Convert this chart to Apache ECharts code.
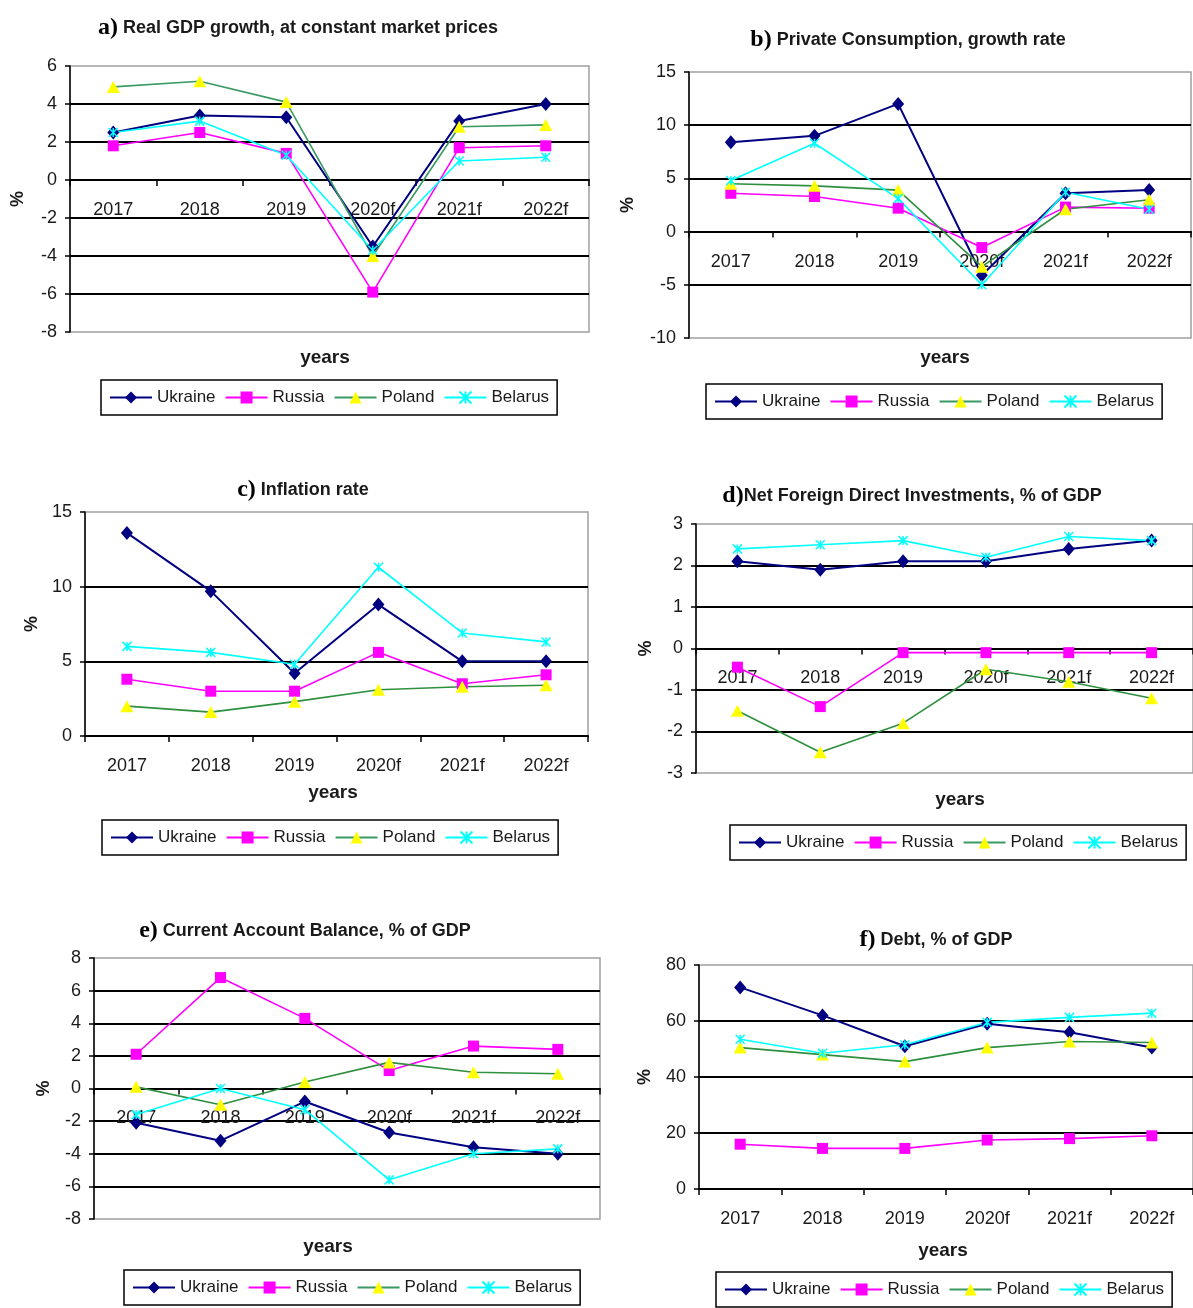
<!DOCTYPE html>
<html>
<head>
<meta charset="utf-8">
<script src="https://cdn.jsdelivr.net/npm/echarts@6/dist/echarts.min.js"></script>
<style>
  html, body { margin: 0; padding: 0; background: #fff; }
  #chart { width: 1193px; height: 1308px; }
</style>
</head>
<body>
<div id="chart"></div>
<script>
// Shared categories and series names
const years = ['2017', '2018', '2019', '2020f', '2021f', '2022f'];
const countries = ['Ukraine', 'Russia', 'Poland', 'Belarus'];

// a) Real GDP growth, at constant market prices (%), rows follow `countries`
const gdpGrowth = [
  [2.5, 3.4, 3.3, -3.5, 3.1, 4.0],
  [1.8, 2.5, 1.4, -5.9, 1.7, 1.8],
  [4.9, 5.2, 4.1, -4.0, 2.8, 2.9],
  [2.5, 3.1, 1.3, -3.7, 1.0, 1.2]
];
// b) Private consumption, growth rate (%)
const consumption = [
  [8.4, 9.0, 12.0, -4.1, 3.6, 3.9],
  [3.6, 3.3, 2.2, -1.5, 2.3, 2.2],
  [4.5, 4.3, 3.9, -3.3, 2.1, 3.0],
  [4.8, 8.3, 3.1, -5.0, 3.7, 2.1]
];
// c) Inflation rate (%)
const inflation = [
  [13.6, 9.7, 4.2, 8.8, 5.0, 5.0],
  [3.8, 3.0, 3.0, 5.6, 3.5, 4.1],
  [2.0, 1.6, 2.3, 3.1, 3.3, 3.4],
  [6.0, 5.6, 4.8, 11.3, 6.9, 6.3]
];
// d) Net foreign direct investments, % of GDP
const netFdi = [
  [2.1, 1.9, 2.1, 2.1, 2.4, 2.6],
  [-0.45, -1.4, -0.1, -0.1, -0.1, -0.1],
  [-1.5, -2.5, -1.8, -0.5, -0.8, -1.2],
  [2.4, 2.5, 2.6, 2.2, 2.7, 2.6]
];
// e) Current account balance, % of GDP
const currentAccount = [
  [-2.1, -3.2, -0.8, -2.7, -3.6, -4.0],
  [2.1, 6.8, 4.3, 1.1, 2.6, 2.4],
  [0.1, -1.0, 0.4, 1.6, 1.0, 0.9],
  [-1.6, 0.0, -1.3, -5.6, -4.0, -3.7]
];
// f) Debt, % of GDP
const debt = [
  [72, 62, 51, 59, 56, 50.5],
  [16, 14.5, 14.5, 17.5, 18, 19],
  [50.5, 48, 45.5, 50.5, 52.7, 52.3],
  [53.5, 48.5, 51.5, 59.5, 61.3, 62.8]
];

const SANS = "'Liberation Sans', Arial, sans-serif";
const SERIF = "'Liberation Serif', 'DejaVu Serif', serif";
const TEXT = '#1a1a1a';

// Per-country line and marker styling
const styles = [
  { line: '#000080', fill: '#000080', symbol: 'diamond', size: [12, 14], width: 2 },
  { line: '#ff00ff', fill: '#ff00ff', symbol: 'rect', size: 11, width: 1.6 },
  { line: '#2e8f3e', fill: '#ffff00', symbol: 'triangle', size: [13, 12], width: 1.6 },
  { line: '#00ffff', fill: 'transparent', symbol: 'path://M0,0L10,10M10,0L0,10M5,0L5,10', size: 9, width: 1.6 }
];

// Panel layout: plot rectangles, axis ranges, titles, legend boxes
const panels = [
  { tag: 'a)', title: ' Real GDP growth, at constant market prices', data: gdpGrowth,
    grid: [70, 66, 519, 266], y: [-8, 6, 2], titleAt: [298, 28], yearsAt: [325, 358],
    legendAt: [101, 380], pctX: 18, poland: '#3a9a62' },
  { tag: 'b)', title: ' Private Consumption, growth rate', data: consumption,
    grid: [689, 72, 502, 266], y: [-10, 15, 5], titleAt: [908, 40], yearsAt: [945, 358],
    legendAt: [706, 384], pctX: 628 },
  { tag: 'c)', title: ' Inflation rate', data: inflation,
    grid: [85, 512, 503, 224], y: [0, 15, 5], titleAt: [303, 490], yearsAt: [333, 793],
    legendAt: [102, 820], pctX: 32 },
  { tag: 'd)', title: 'Net Foreign Direct Investments, % of GDP', data: netFdi,
    grid: [696, 524, 503, 249], y: [-3, 3, 1], titleAt: [912, 496], yearsAt: [960, 800],
    legendAt: [730, 825], pctX: 646 },
  { tag: 'e)', title: ' Current Account Balance, % of GDP', data: currentAccount,
    grid: [94, 958, 506, 261], y: [-8, 8, 2], titleAt: [305, 931], yearsAt: [328, 1247],
    legendAt: [124, 1270], pctX: 44 },
  { tag: 'f)', title: ' Debt, % of GDP', data: debt,
    grid: [699, 965, 500, 224], y: [0, 80, 20], titleAt: [936, 940], yearsAt: [943, 1251],
    legendAt: [716, 1272], pctX: 645 }
];

const grid = [], xAxis = [], yAxis = [], series = [], legend = [], graphic = [];

panels.forEach((p, i) => {
  const [gl, gt, gw, gh] = p.grid;
  const [ymin, ymax, step] = p.y;
  // the category axis crosses the value axis at zero: lift it from the plot bottom
  const zeroLift = gh * (0 - ymin) / (ymax - ymin);

  grid.push({
    left: gl, top: gt, width: gw, height: gh,
    show: true, borderColor: '#a0a0a0', borderWidth: 1.5, backgroundColor: 'transparent'
  });
  xAxis.push({
    type: 'category', gridIndex: i, data: years, boundaryGap: true,
    position: 'bottom', offset: -zeroLift,
    axisLine: { onZero: false, lineStyle: { color: '#000', width: 2 } },
    axisTick: { show: true, interval: 0, length: 6, lineStyle: { color: '#000', width: 1.5 } },
    axisLabel: { interval: 0, margin: 21, fontSize: 18, color: TEXT, fontFamily: SANS },
    splitLine: { show: false }
  });
  yAxis.push({
    type: 'value', gridIndex: i, min: ymin, max: ymax, interval: step,
    axisLine: { show: true, onZero: false, lineStyle: { color: '#000', width: 1.5 } },
    axisTick: { show: true, length: 5, lineStyle: { color: '#000', width: 1.5 } },
    axisLabel: { margin: 13, fontSize: 18, color: TEXT, fontFamily: SANS },
    splitLine: { show: true, showMinLine: false, showMaxLine: false,
                 lineStyle: { color: '#000', width: 2 } }
  });
  countries.forEach((name, k) => {
    const s = styles[k];
    const lineColor = (k === 2 && p.poland) ? p.poland : s.line;
    series.push({
      type: 'line', name, xAxisIndex: i, yAxisIndex: i,
      data: p.data[k],
      symbol: s.symbol, symbolSize: s.size, showAllSymbol: true,
      lineStyle: { color: lineColor, width: s.width },
      itemStyle: { color: s.fill, borderColor: k === 3 ? '#00ffff' : s.fill, borderWidth: k === 3 ? 1.5 : 0 },
      emphasis: { disabled: true },
      animation: false
    });
  });
  legend.push({
    data: countries.map((name, k) => (k === 2 && p.poland)
      ? { name, lineStyle: { color: p.poland } } : name),
    left: p.legendAt[0], top: p.legendAt[1],
    orient: 'horizontal', padding: [9, 8, 9, 8], itemGap: 9,
    itemWidth: 42, itemHeight: 15,
    borderColor: '#000', borderWidth: 1.5, backgroundColor: '#fff',
    selectedMode: false,
    textStyle: { fontSize: 17, color: TEXT, fontFamily: SANS }
  });
  graphic.push({
    type: 'text', x: p.titleAt[0], y: p.titleAt[1],
    style: {
      text: '{tag|' + p.tag + '}{t|' + p.title + '}',
      textAlign: 'center', textVerticalAlign: 'middle',
      rich: {
        tag: { fontFamily: SERIF, fontWeight: 'bold', fontSize: 24, fill: '#000' },
        t: { fontFamily: SANS, fontWeight: 'bold', fontSize: 18, fill: TEXT }
      }
    }
  });
  graphic.push({
    type: 'text', x: p.yearsAt[0], y: p.yearsAt[1],
    style: {
      text: 'years', textAlign: 'center', textVerticalAlign: 'middle',
      fontFamily: SANS, fontWeight: 'bold', fontSize: 19, fill: TEXT
    }
  });
  // rotated "%" unit label beside the value axis
  graphic.push({
    type: 'text', x: p.pctX, y: gt + gh / 2, rotation: Math.PI / 2,
    style: {
      text: '%', textAlign: 'center', textVerticalAlign: 'middle',
      fontFamily: SANS, fontWeight: 'bold', fontSize: 18, fill: TEXT
    }
  });
});

const chart = echarts.init(document.getElementById('chart'), null, { renderer: 'canvas' });
chart.setOption({
  backgroundColor: '#fff',
  animation: false,
  grid, xAxis, yAxis, series, legend, graphic
});
</script>
</body>
</html>
